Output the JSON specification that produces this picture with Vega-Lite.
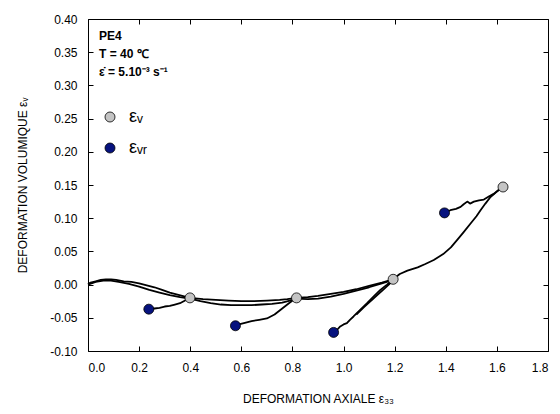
{
  "$schema": "https://vega.github.io/schema/vega-lite/v6.json",
  "width": 460,
  "height": 332,
  "autosize": "none",
  "padding": {"left": 88, "top": 19, "right": 12, "bottom": 63},
  "background": "white",
  "config": {
    "font": "Liberation Sans",
    "view": {"stroke": null},
    "axis": {
      "grid": false,
      "domainColor": "black",
      "domainWidth": 1,
      "tickColor": "black",
      "tickWidth": 1,
      "tickSize": -5,
      "labelColor": "black",
      "labelFontSize": 12,
      "labelFont": "Liberation Sans",
      "titleColor": "black",
      "titleFontSize": 12,
      "titleFontWeight": "normal",
      "titleFont": "Liberation Sans",
      "labelPadding": 16
    }
  },
  "datasets": {
    "curve": [
      {"seg": "L1", "x": 0.0, "y": 0.001},
      {"seg": "L1", "x": 0.01, "y": 0.003},
      {"seg": "L1", "x": 0.03, "y": 0.005},
      {"seg": "L1", "x": 0.05, "y": 0.007},
      {"seg": "L1", "x": 0.07, "y": 0.008},
      {"seg": "L1", "x": 0.09, "y": 0.008},
      {"seg": "L1", "x": 0.11, "y": 0.007},
      {"seg": "L1", "x": 0.14, "y": 0.005},
      {"seg": "L1", "x": 0.17, "y": 0.004},
      {"seg": "L1", "x": 0.2, "y": 0.002},
      {"seg": "L1", "x": 0.23, "y": -0.001},
      {"seg": "L1", "x": 0.26, "y": -0.004},
      {"seg": "L1", "x": 0.29, "y": -0.008},
      {"seg": "L1", "x": 0.32, "y": -0.012},
      {"seg": "L1", "x": 0.35, "y": -0.015},
      {"seg": "L1", "x": 0.38, "y": -0.018},
      {"seg": "L1", "x": 0.399, "y": -0.02},
      {"seg": "L1b", "x": 0.0, "y": 0.0},
      {"seg": "L1b", "x": 0.03, "y": 0.004},
      {"seg": "L1b", "x": 0.06, "y": 0.006},
      {"seg": "L1b", "x": 0.09, "y": 0.006},
      {"seg": "L1b", "x": 0.12, "y": 0.004},
      {"seg": "L1b", "x": 0.16, "y": 0.001},
      {"seg": "L1b", "x": 0.2, "y": -0.003},
      {"seg": "L1b", "x": 0.24, "y": -0.008},
      {"seg": "L1b", "x": 0.28, "y": -0.012},
      {"seg": "L1b", "x": 0.32, "y": -0.016},
      {"seg": "L1b", "x": 0.36, "y": -0.019},
      {"seg": "L1b", "x": 0.399, "y": -0.021},
      {"seg": "U1", "x": 0.399, "y": -0.02},
      {"seg": "U1", "x": 0.38, "y": -0.024},
      {"seg": "U1", "x": 0.36, "y": -0.028},
      {"seg": "U1", "x": 0.34, "y": -0.03},
      {"seg": "U1", "x": 0.32, "y": -0.032},
      {"seg": "U1", "x": 0.3, "y": -0.033},
      {"seg": "U1", "x": 0.28, "y": -0.035},
      {"seg": "U1", "x": 0.26, "y": -0.036},
      {"seg": "U1", "x": 0.238, "y": -0.037},
      {"seg": "L2", "x": 0.399, "y": -0.02},
      {"seg": "L2", "x": 0.45, "y": -0.022},
      {"seg": "L2", "x": 0.5, "y": -0.023},
      {"seg": "L2", "x": 0.55, "y": -0.024},
      {"seg": "L2", "x": 0.6, "y": -0.025},
      {"seg": "L2", "x": 0.65, "y": -0.025},
      {"seg": "L2", "x": 0.7, "y": -0.024},
      {"seg": "L2", "x": 0.75, "y": -0.023},
      {"seg": "L2", "x": 0.78, "y": -0.022},
      {"seg": "L2", "x": 0.816, "y": -0.02},
      {"seg": "L2b", "x": 0.399, "y": -0.021},
      {"seg": "L2b", "x": 0.44, "y": -0.025},
      {"seg": "L2b", "x": 0.48, "y": -0.028},
      {"seg": "L2b", "x": 0.52, "y": -0.03},
      {"seg": "L2b", "x": 0.56, "y": -0.031},
      {"seg": "L2b", "x": 0.6, "y": -0.031},
      {"seg": "L2b", "x": 0.64, "y": -0.031},
      {"seg": "L2b", "x": 0.68, "y": -0.03},
      {"seg": "L2b", "x": 0.72, "y": -0.029},
      {"seg": "L2b", "x": 0.76, "y": -0.027},
      {"seg": "L2b", "x": 0.79, "y": -0.024},
      {"seg": "L2b", "x": 0.816, "y": -0.021},
      {"seg": "U2", "x": 0.816, "y": -0.02},
      {"seg": "U2", "x": 0.79, "y": -0.027},
      {"seg": "U2", "x": 0.76, "y": -0.036},
      {"seg": "U2", "x": 0.73, "y": -0.045},
      {"seg": "U2", "x": 0.7, "y": -0.051},
      {"seg": "U2", "x": 0.67, "y": -0.053},
      {"seg": "U2", "x": 0.64, "y": -0.055},
      {"seg": "U2", "x": 0.61, "y": -0.058},
      {"seg": "U2", "x": 0.59, "y": -0.06},
      {"seg": "U2", "x": 0.577, "y": -0.062},
      {"seg": "L3", "x": 0.816, "y": -0.02},
      {"seg": "L3", "x": 0.86, "y": -0.019},
      {"seg": "L3", "x": 0.9, "y": -0.017},
      {"seg": "L3", "x": 0.95, "y": -0.014},
      {"seg": "L3", "x": 1.0, "y": -0.011},
      {"seg": "L3", "x": 1.05, "y": -0.007},
      {"seg": "L3", "x": 1.1, "y": -0.002},
      {"seg": "L3", "x": 1.15, "y": 0.003},
      {"seg": "L3", "x": 1.194, "y": 0.008},
      {"seg": "L3b", "x": 0.816, "y": -0.021},
      {"seg": "L3b", "x": 0.86, "y": -0.022},
      {"seg": "L3b", "x": 0.9, "y": -0.021},
      {"seg": "L3b", "x": 0.95, "y": -0.018},
      {"seg": "L3b", "x": 1.0, "y": -0.014},
      {"seg": "L3b", "x": 1.05, "y": -0.009},
      {"seg": "L3b", "x": 1.1, "y": -0.004},
      {"seg": "L3b", "x": 1.15, "y": 0.002},
      {"seg": "L3b", "x": 1.194, "y": 0.007},
      {"seg": "U3", "x": 1.194, "y": 0.008},
      {"seg": "U3", "x": 1.17, "y": 0.0},
      {"seg": "U3", "x": 1.144, "y": -0.008},
      {"seg": "U3", "x": 1.12, "y": -0.017},
      {"seg": "U3", "x": 1.092, "y": -0.028},
      {"seg": "U3", "x": 1.065, "y": -0.038},
      {"seg": "U3", "x": 1.039, "y": -0.048},
      {"seg": "U3", "x": 1.025, "y": -0.053},
      {"seg": "U3", "x": 1.013, "y": -0.058},
      {"seg": "U3", "x": 1.0, "y": -0.06},
      {"seg": "U3", "x": 0.987, "y": -0.063},
      {"seg": "U3", "x": 0.975, "y": -0.068},
      {"seg": "U3", "x": 0.961, "y": -0.072},
      {"seg": "U3b", "x": 1.194, "y": 0.006},
      {"seg": "U3b", "x": 1.16, "y": -0.006},
      {"seg": "U3b", "x": 1.12, "y": -0.02},
      {"seg": "U3b", "x": 1.08, "y": -0.034},
      {"seg": "U3b", "x": 1.05, "y": -0.045},
      {"seg": "L4", "x": 1.194, "y": 0.008},
      {"seg": "L4", "x": 1.22, "y": 0.016},
      {"seg": "L4", "x": 1.25, "y": 0.021},
      {"seg": "L4", "x": 1.29, "y": 0.026},
      {"seg": "L4", "x": 1.32, "y": 0.031},
      {"seg": "L4", "x": 1.353, "y": 0.037},
      {"seg": "L4", "x": 1.39, "y": 0.046},
      {"seg": "L4", "x": 1.42, "y": 0.056},
      {"seg": "L4", "x": 1.444, "y": 0.067},
      {"seg": "L4", "x": 1.47, "y": 0.079},
      {"seg": "L4", "x": 1.497, "y": 0.092},
      {"seg": "L4", "x": 1.52, "y": 0.103},
      {"seg": "L4", "x": 1.536, "y": 0.112},
      {"seg": "L4", "x": 1.555, "y": 0.122},
      {"seg": "L4", "x": 1.575, "y": 0.132},
      {"seg": "L4", "x": 1.6, "y": 0.14},
      {"seg": "L4", "x": 1.624, "y": 0.147},
      {"seg": "U4", "x": 1.624, "y": 0.147},
      {"seg": "U4", "x": 1.605, "y": 0.142},
      {"seg": "U4", "x": 1.589, "y": 0.137},
      {"seg": "U4", "x": 1.57, "y": 0.133},
      {"seg": "U4", "x": 1.549, "y": 0.128},
      {"seg": "U4", "x": 1.53, "y": 0.127},
      {"seg": "U4", "x": 1.51, "y": 0.125},
      {"seg": "U4", "x": 1.495, "y": 0.122},
      {"seg": "U4", "x": 1.484, "y": 0.125},
      {"seg": "U4", "x": 1.47, "y": 0.121},
      {"seg": "U4", "x": 1.458, "y": 0.117},
      {"seg": "U4", "x": 1.44, "y": 0.114},
      {"seg": "U4", "x": 1.418, "y": 0.112},
      {"seg": "U4", "x": 1.395, "y": 0.108}
    ],
    "pts": [
      {"type": "εᵥ", "x": 0.399, "y": -0.02},
      {"type": "εᵥ", "x": 0.816, "y": -0.02},
      {"type": "εᵥ", "x": 1.194, "y": 0.008},
      {"type": "εᵥ", "x": 1.624, "y": 0.147},
      {"type": "εᵥᵣ", "x": 0.238, "y": -0.037},
      {"type": "εᵥᵣ", "x": 0.577, "y": -0.062},
      {"type": "εᵥᵣ", "x": 0.961, "y": -0.072},
      {"type": "εᵥᵣ", "x": 1.395, "y": 0.108}
    ]
  },
  "layer": [
    {
      "data": {"name": "curve"},
      "mark": {"type": "line", "color": "black", "strokeWidth": 1.8, "strokeJoin": "round"},
      "encoding": {
        "x": {
          "field": "x", "type": "quantitative",
          "scale": {"domain": [0, 1.8], "nice": false, "zero": false},
          "axis": {
            "orient": "bottom",
            "values": [0, 0.2, 0.4, 0.6, 0.8, 1.0, 1.2, 1.4, 1.6, 1.8],
            "format": ".1f",
            "title": "DEFORMATION AXIALE ε₃₃",
            "titlePadding": 20
          }
        },
        "y": {
          "field": "y", "type": "quantitative",
          "scale": {"domain": [-0.1, 0.4], "nice": false, "zero": false},
          "axis": {
            "orient": "left",
            "values": [-0.1, -0.05, 0, 0.05, 0.1, 0.15, 0.2, 0.25, 0.3, 0.35, 0.4],
            "labelExpr": "replace(format(datum.value, '.2f'), '−', '-')",
            "title": "DEFORMATION VOLUMIQUE εᵥ",
            "titlePadding": 20
          }
        },
        "detail": {"field": "seg", "type": "nominal"}
      }
    },
    {
      "data": {"name": "pts"},
      "mark": {"type": "point", "filled": true, "size": 100, "opacity": 1, "stroke": "black", "strokeWidth": 0.8},
      "encoding": {
        "x": {
          "field": "x", "type": "quantitative",
          "scale": {"domain": [0, 1.8], "nice": false, "zero": false},
          "axis": {
            "orient": "top",
            "values": [0, 0.2, 0.4, 0.6, 0.8, 1.0, 1.2, 1.4, 1.6, 1.8],
            "labels": false,
            "title": null
          }
        },
        "y": {
          "field": "y", "type": "quantitative",
          "scale": {"domain": [-0.1, 0.4], "nice": false, "zero": false},
          "axis": {
            "orient": "right",
            "values": [-0.1, -0.05, 0, 0.05, 0.1, 0.15, 0.2, 0.25, 0.3, 0.35, 0.4],
            "labels": false,
            "title": null
          }
        },
        "color": {
          "field": "type", "type": "nominal",
          "scale": {"domain": ["εᵥ", "εᵥᵣ"], "range": ["#c4c4c4", "#06127e"]},
          "legend": {
            "orient": "none",
            "legendX": 11,
            "legendY": 12,
            "title": ["PE4", "T = 40 ℃", "ε̇ = 5.10⁻³ s⁻¹"],
            "titleFontWeight": "bold",
            "titleFontSize": 12,
            "titleLineHeight": 18,
            "titlePadding": 29,
            "titleColor": "black",
            "titleFont": "Liberation Sans",
            "labelFontSize": 18,
            "labelColor": "black",
            "labelFont": "Liberation Sans",
            "labelOffset": 10,
            "symbolSize": 100,
            "symbolType": "circle",
            "symbolStrokeColor": "black",
            "symbolStrokeWidth": 0.8,
            "symbolOffset": 2,
            "rowPadding": 13,
            "padding": 0
          }
        }
      }
    }
  ],
  "resolve": {"axis": {"x": "independent", "y": "independent"}}
}
